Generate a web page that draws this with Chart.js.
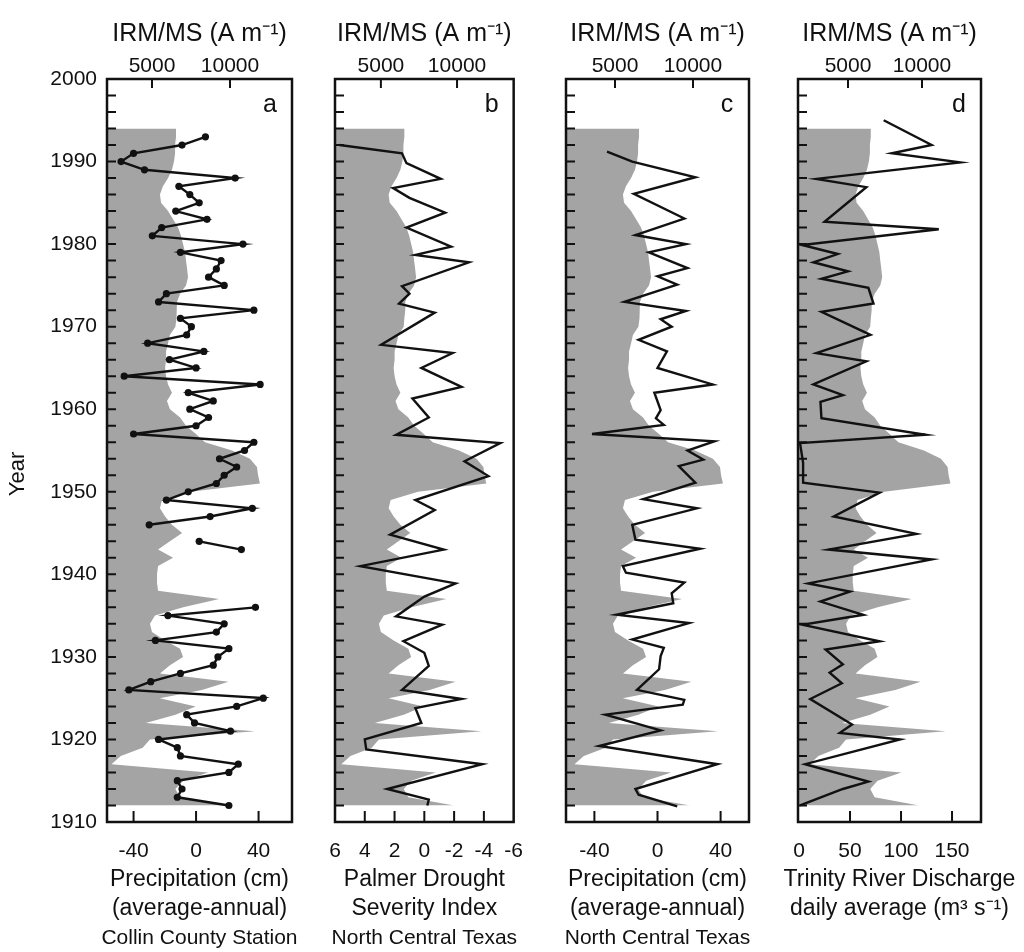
<!DOCTYPE html>
<html>
<head>
<meta charset="utf-8">
<title>IRM/MS and climate records</title>
<script src="https://cdn.jsdelivr.net/npm/chart.js@4.4.1/dist/chart.umd.min.js"></script>
<style>
    html, body { margin: 0; padding: 0; background: #fff; }
    #wrap { position: relative; width: 1024px; height: 952px; overflow: hidden; background: #fff; }
    #wrap canvas { position: absolute; top: 0; }
</style>
</head>
<body>
<div id="wrap">
    <canvas id="panelA" width="310" height="952" style="left:0px"></canvas>
    <canvas id="panelB" width="230" height="952" style="left:310px"></canvas>
    <canvas id="panelC" width="228" height="952" style="left:540px"></canvas>
    <canvas id="panelD" width="256" height="952" style="left:768px"></canvas>
</div>
<script>
// Simple year range helper (categories only)
function span(from, to, step = 1) {
    const out = [];
    const s = from <= to ? step : -step;
    for (let v = from; s > 0 ? v <= to : v >= to; v += s) out.push(v);
    return out;
}

// IRM/MS (A m-1) profile, shown as the grey area in every panel, 1994 -> 1912
const irmYears = span(1994, 1912);
const irmValues = [
    6540, 6540, 6480, 6480, 6410, 6280, 6030, 5700, 5510, 5580,
    6030, 6350, 6670, 6860, 6990, 7120, 7180, 7250, 7310, 7180,
    6800, 6600, 6600, 6540, 6500, 6150, 6030, 5900, 5900, 5840,
    5900, 6030, 6280, 5960, 6150, 6800, 7180, 7820, 8400, 10130,
    11280, 11730, 11800, 11920, 7440, 5640, 5510, 5840, 6280, 6930,
    6150, 5390, 6350, 5390, 5320, 5320, 5390, 9300, 7000, 5190,
    4870, 5000, 5840, 6800, 6990, 6150, 5510, 9900, 8200, 5500,
    7800, 6500, 4600, 11600, 4870, 4400, 3000, 2400, 8600, 7000,
    6500, 6800, 9800
];

// a: Collin County Station precipitation (cm), 1993 -> 1912 (null = no record)
const collinYears = span(1993, 1912);
const collinValues = [
    6, -9, -40, -48, -33, 25, -11, -4, 2, -13,
    7, -22, -28, 30, -10, 16, 13, 8, 18, -19,
    -24, 37, -10, -3, -6, -31, 5, -17, 0, -46,
    41, -5, 11, -4, 8, 0, -40, 37, 31, 15,
    26, 18, 13, -5, -19, 36, 9, -30, null, 2,
    29, null, null, null, null, null, null, 38, -18, 18,
    13, -26, 21, 14, 11, -10, -29, -43, 43, 26,
    -6, -1, 22, -24, -12, -10, 27, 21, -12, -9,
    -12, 21
];

// b: Palmer Drought Severity Index, North Central Texas
const pdsiYears = [1992, 1991, 1989.8, 1987.9, 1986.8, 1985.6, 1983.8, 1982, 1979.7, 1978.7,
    1977.8, 1974.9, 1974, 1972.8, 1971.7, 1967.8, 1966.8, 1965, 1962.7, 1961.3,
    1959, 1956.9, 1955.9, 1953.7, 1951.9, 1949, 1947.8, 1944.8, 1943, 1941,
    1938.9, 1937.3, 1934.9, 1933.9, 1931.9, 1930.5, 1928.9, 1926, 1924.9, 1923.8,
    1922, 1920, 1918.8, 1917, 1914, 1912.7, 1912];
const pdsiValues = [5.7, 1.5, 1.2, -1.1, 2.1, 1.0, -1.4, 1.2, -1.8, 0.6,
    -3.0, 1.5, 1.0, 1.7, -0.7, 2.9, -1.9, 0.2, -2.5, 0.8,
    -0.3, 1.9, -5.1, -2.7, -4.3, 0.6, -0.7, 2.3, -1.3, 4.3,
    -2.1, 0.0, 1.9, -1.2, 1.4, 0.0, -0.3, 1.5, -2.5, 0.6,
    0.2, 4.0, 3.9, -3.9, 2.5, -0.3, -0.2];

// c: North Central Texas precipitation (cm)
const nctxYears = [1991.2, 1990, 1988.1, 1986.1, 1983.1, 1981.1, 1980, 1979, 1977.1, 1976.1,
    1975.1, 1973, 1971.9, 1970.9, 1970, 1968.4, 1967, 1965, 1963, 1962,
    1959.9, 1958.9, 1958.1, 1957, 1956.1, 1955, 1953.9, 1953.1, 1951.1, 1949.1,
    1948, 1946, 1944.2, 1943.1, 1941, 1940.2, 1939, 1937.7, 1936.5, 1935.1,
    1934.1, 1932.1, 1931.1, 1930.1, 1928.5, 1926, 1924.8, 1924.2, 1923, 1921.1,
    1919.2, 1917, 1914, 1913.3, 1911.9];
const nctxValues = [-32, -16, 24, -15, 17, -14, 18, -5.5, 19, 0,
    12.5, -21, 18, 2, 9, -12, 6, 0, 35, -2,
    2, -1, 4, -41.5, 36, 19, 29, 13.5, 24, -9,
    25, -16, -14, 27, -22, -20, 17, 9, 10, -26,
    20, -16, 4, 2, 1, -13, 17, 16, -33, 2,
    -37, 38, -14, -12, 12.5];

// d: Trinity River discharge, daily average (m3 s-1)
const trinityYears = [1995, 1992, 1991, 1989.9, 1987.9, 1986.9, 1982.7, 1981.8, 1979.9, 1978.8,
    1977.8, 1976.7, 1975.8, 1974.7, 1972.8, 1971.8, 1969, 1966.8, 1965.8, 1963,
    1961.7, 1960.9, 1958.9, 1956.9, 1955.9, 1953.5, 1951.1, 1949.9, 1947, 1944.9,
    1943, 1941.8, 1938.9, 1937.9, 1936.7, 1935.1, 1933.9, 1931.9, 1930.9, 1929.1,
    1928.1, 1926.8, 1924.9, 1921.8, 1920.8, 1920, 1917, 1914.9, 1914, 1912];
const trinityValues = [83, 130, 91, 158, 17, 66, 25, 137, 3, 38,
    14, 48, 22, 68, 73, 22, 70, 17, 66, 14,
    43, 21, 22, 124, 1, 4, 4, 79, 34, 115,
    29, 130, 9, 50, 21, 63, 3, 79, 26, 43,
    30, 42, 11, 52, 40, 99, 6, 68, 43, 1];

// Tick labels
const yearTicks = span(1910, 2000, 2);
const irmTicks = [5000, 10000];
const precipTicks = [-40, 0, 40];
const pdsiTicks = [6, 4, 2, 0, -2, -4, -6];
const dischargeTicks = [0, 50, 100, 150];

const FONT = "'Liberation Sans', Arial, Helvetica, sans-serif";
const INK = '#111';
Chart.defaults.font.family = FONT;
Chart.defaults.color = INK;

/**
 * Frame, inward tick marks, panel letter, Year label and the captions below
 */
const framePlugin = {
    id: 'frame',
    afterDatasetsDraw(chart, args, opts) {
        const { ctx, chartArea: a, scales } = chart;
        ctx.save();
        ctx.strokeStyle = INK;
        ctx.lineWidth = 2;
        ctx.beginPath();
        scales.y.ticks.forEach(t => {
            const py = scales.y.getPixelForValue(t.value);
            if (py < a.top + 2 || py > a.bottom - 2) return;
            ctx.moveTo(a.left, py);
            ctx.lineTo(a.left + 9, py);
        });
        scales.x.ticks.forEach(t => {
            const px = scales.x.getPixelForValue(t.value);
            if (px < a.left + 3 || px > a.right - 3) return;
            ctx.moveTo(px, a.bottom);
            ctx.lineTo(px, a.bottom - 11);
        });
        scales.x2.ticks.forEach(t => {
            const px = scales.x2.getPixelForValue(t.value);
            ctx.moveTo(px, a.top);
            ctx.lineTo(px, a.top + 9);
        });
        ctx.stroke();

        ctx.lineWidth = 2.5;
        ctx.strokeRect(a.left, a.top, a.right - a.left, a.bottom - a.top);

        ctx.fillStyle = INK;
        ctx.font = `25px ${FONT}`;
        ctx.textAlign = 'center';
        ctx.textBaseline = 'alphabetic';
        ctx.fillText(opts.letter, a.right - 22, a.top + 33);

        // captions under the bottom axis
        ctx.textBaseline = 'middle';
        const cx = (a.left + a.right) / 2 + (opts.captionShift || 0);
        (opts.caption || []).forEach((text, i) => {
            ctx.font = `${i < 2 ? 23 : 21}px ${FONT}`;
            ctx.fillText(text, cx, 880 + i * 29);
        });

        if (opts.yearLabel) {
            ctx.font = `22px ${FONT}`;
            ctx.translate(18, 474);
            ctx.rotate(-Math.PI / 2);
            ctx.fillText(opts.yearLabel, 0, 0);
        }
        ctx.restore();
    }
};

function toPoints(years, values) {
    return years.map((year, i) => ({ x: values[i], y: year }));
}

function fixedTicks(list) {
    return scale => { scale.ticks = list.map(v => ({ value: v })); };
}

/**
 * Build one vertical profile panel
 */
function makePanel(p) {
    new Chart(document.getElementById(p.canvas), {
        type: 'line',
        data: {
            datasets: [
                {
                    label: p.label,
                    data: toPoints(p.years, p.values),
                    xAxisID: 'x',
                    yAxisID: 'y',
                    borderColor: INK,
                    borderWidth: 2.4,
                    pointRadius: p.markers ? 3.6 : 0,
                    pointBackgroundColor: INK,
                    pointBorderWidth: 0,
                    fill: false,
                    spanGaps: false,
                    tension: 0,
                    order: 1
                },
                {
                    label: 'IRM/MS',
                    data: toPoints(irmYears, irmValues),
                    xAxisID: 'x2',
                    yAxisID: 'y',
                    borderWidth: 0,
                    borderColor: 'rgba(0,0,0,0)',
                    backgroundColor: '#a4a4a4',
                    pointRadius: 0,
                    // fill back to the left edge of the IRM/MS axis
                    fill: { value: p.irmMin },
                    tension: 0,
                    order: 2
                }
            ]
        },
        options: {
            indexAxis: 'y',
            responsive: false,
            animation: false,
            events: [],
            layout: { padding: { left: 0, right: p.padRight, top: 0, bottom: 0 } },
            plugins: {
                legend: { display: false },
                tooltip: { enabled: false },
                frame: {
                    letter: p.letter,
                    yearLabel: p.yearLabel,
                    caption: p.caption,
                    captionShift: p.captionShift
                }
            },
            scales: {
                y: {
                    type: 'linear',
                    position: 'left',
                    min: 1910,
                    max: 2000,
                    grid: { display: false, drawTicks: false },
                    border: { display: false },
                    afterBuildTicks: fixedTicks(yearTicks),
                    afterFit: s => { s.width = p.yWidth; },
                    ticks: {
                        display: !!p.yearLabel,
                        autoSkip: false,
                        padding: 10,
                        font: { size: 21 },
                        callback: v => (v % 10 === 0 ? String(v) : '')
                    }
                },
                x: {
                    type: 'linear',
                    position: 'bottom',
                    min: p.xMin,
                    max: p.xMax,
                    reverse: !!p.reverse,
                    grid: { display: false, drawTicks: false },
                    border: { display: false },
                    afterBuildTicks: fixedTicks(p.xTicks),
                    afterFit: s => { s.height = 130; },
                    ticks: {
                        autoSkip: false,
                        maxRotation: 0,
                        padding: 17,
                        font: { size: 21 },
                        callback: v => String(v)
                    }
                },
                x2: {
                    type: 'linear',
                    position: 'top',
                    min: p.irmMin,
                    max: p.irmMax,
                    grid: { display: false, drawTicks: false },
                    border: { display: false },
                    afterBuildTicks: fixedTicks(irmTicks),
                    afterFit: s => { s.height = 79; },
                    ticks: {
                        autoSkip: false,
                        maxRotation: 0,
                        padding: 0,
                        font: { size: 21 },
                        callback: v => String(v)
                    },
                    title: {
                        display: true,
                        text: 'IRM/MS (A m\u207B\u00B9)',
                        color: INK,
                        font: { size: 25 },
                        padding: { top: 19, bottom: 0 }
                    }
                }
            }
        },
        plugins: [framePlugin]
    });
}

makePanel({
    canvas: 'panelA', letter: 'a', yearLabel: 'Year', label: 'Collin County precipitation',
    yWidth: 107, padRight: 18,
    years: collinYears, values: collinValues, markers: true,
    xMin: -57, xMax: 61.4, xTicks: precipTicks,
    irmMin: 2115, irmMax: 13975,
    caption: ['Precipitation (cm)', '(average-annual)', 'Collin County Station']
});

makePanel({
    canvas: 'panelB', letter: 'b', label: 'PDSI',
    yWidth: 25, padRight: 22,
    years: pdsiYears, values: pdsiValues,
    xMin: -6, xMax: 6, reverse: true, xTicks: pdsiTicks,
    irmMin: 1987, irmMax: 13718,
    caption: ['Palmer Drought', 'Severity Index', 'North Central Texas']
});

makePanel({
    canvas: 'panelC', letter: 'c', label: 'North Central Texas precipitation',
    yWidth: 26, padRight: 19,
    years: nctxYears, values: nctxValues,
    xMin: -58, xMax: 58, xTicks: precipTicks,
    irmMin: 1859, irmMax: 13590,
    caption: ['Precipitation (cm)', '(average-annual)', 'North Central Texas']
});

makePanel({
    canvas: 'panelD', letter: 'd', label: 'Trinity River discharge',
    yWidth: 30, padRight: 43,
    years: trinityYears, values: trinityValues,
    xMin: -1, xMax: 178.4, xTicks: dischargeTicks,
    irmMin: 1622, irmMax: 13986,
    caption: ['Trinity River Discharge', 'daily average (m\u00B3 s\u207B\u00B9)'],
    captionShift: 10
});
</script>
</body>
</html>
